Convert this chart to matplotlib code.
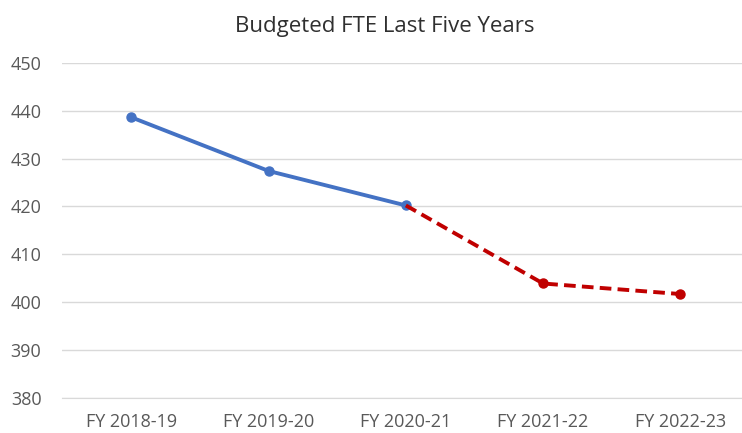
#!/usr/bin/env python3

import matplotlib
matplotlib.use('Agg')
import matplotlib.pyplot as plt

years = ['FY 2018-19', 'FY 2019-20', 'FY 2020-21', 'FY 2021-22', 'FY 2022-23']
actual_fte = [438.6, 427.4, 420.2]
projected_fte = [420.2, 403.9, 401.7]


def main():
    plt.rcParams['font.family'] = ['Open Sans', 'DejaVu Sans']
    fig = plt.figure(figsize=(7.42, 4.33), dpi=100)
    # plot area: gridlines run from x=62 to the right edge, 450 at y=63, 380 at y=398
    ax = fig.add_axes([0.084, 0.081, 0.916, 0.774])

    x = list(range(len(years)))
    ax.plot(x[:3], actual_fte, color='#4472C4', lw=2.8, marker='o', ms=6.5,
            solid_capstyle='round', zorder=3)
    ax.plot(x[2:], projected_fte, color='#C00000', lw=2.8, ls=(0, (3, 1.6)),
            marker='o', ms=6.5, markevery=[1, 2], zorder=3)

    ax.set_ylim(380, 450)
    ax.set_yticks(range(380, 451, 10))
    ax.set_xlim(-0.504, 4.45)
    ax.set_xticks(x)
    ax.set_xticklabels(years)
    ax.grid(axis='y', color='#D9D9D9', lw=1)
    ax.set_axisbelow(True)
    for side in ['top', 'right', 'left']:
        ax.spines[side].set_visible(False)
    ax.spines['bottom'].set_color('#D9D9D9')
    ax.tick_params(length=0, labelsize=13, labelcolor='#595959')
    ax.tick_params(axis='y', pad=15)
    ax.tick_params(axis='x', pad=11)

    fig.text(0.518, 0.926, 'Budgeted FTE Last Five Years', ha='center', va='baseline',
             fontsize=16, color='#303030')
    fig.savefig('out.png')


if __name__ == '__main__':
    main()
